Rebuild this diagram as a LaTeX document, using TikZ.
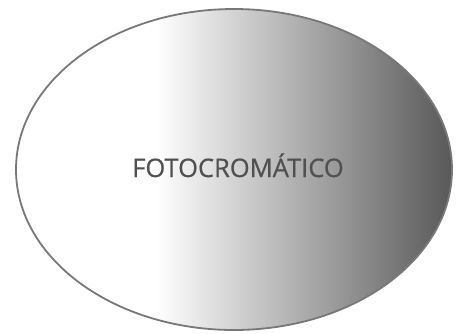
\documentclass[tikz,border=0pt]{standalone}
\usepackage{fontspec}
\setmainfont{Open Sans}
\newfontfamily\labelfont[FakeBold=0.6]{Open Sans}
\usetikzlibrary{shapes.geometric}
\definecolor{ellipsedark}{RGB}{88,88,88}
\definecolor{edgegray}{RGB}{120,120,120}
\definecolor{textgray}{RGB}{80,80,80}
\pgfdeclarehorizontalshading{fotoshade}{100bp}{color(0bp)=(white); color(41bp)=(white); color(75bp)=(ellipsedark); color(100bp)=(ellipsedark)}
\tikzset{
  lensnode/.style={ellipse, draw=edgegray, line width=1.8pt, shading=fotoshade,
    minimum width=436pt, minimum height=321pt, inner sep=0pt},
  labeltext/.style={text=textgray, font=\labelfont\fontsize{25.5}{30}\selectfont, inner sep=0pt, anchor=base}
}
\begin{document}
\begin{tikzpicture}[x=1pt,y=-1pt]
\useasboundingbox (0,0) rectangle (456,333);
\node[lensnode] (lens) at (234,169.5) {};
\node[labeltext] (label) at (238,177) {FOTOCROMÁTICO};
\end{tikzpicture}
\end{document}
